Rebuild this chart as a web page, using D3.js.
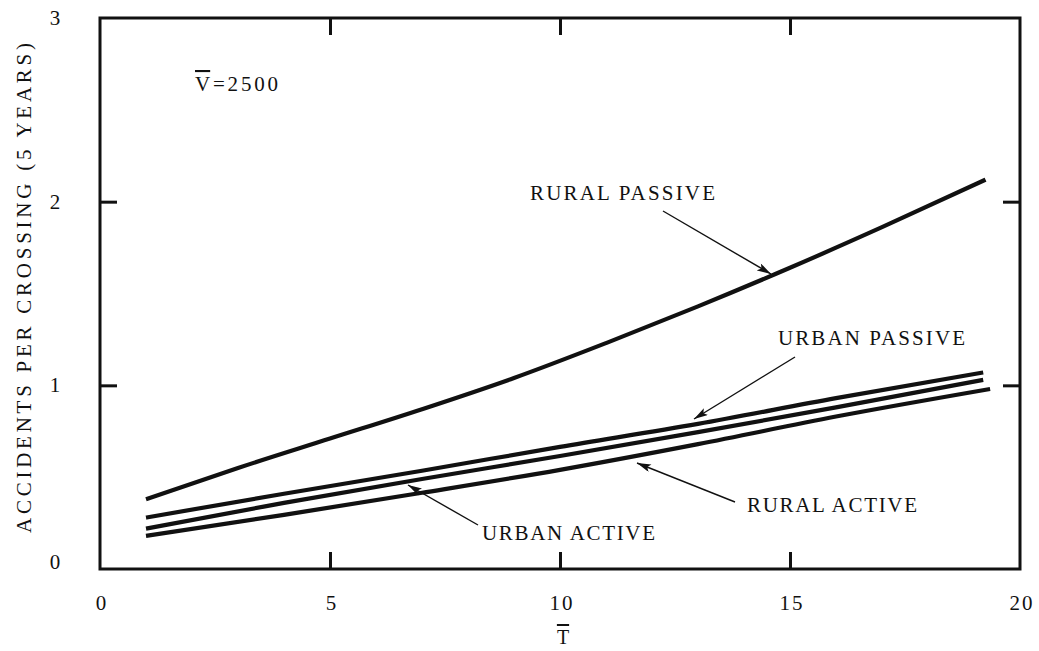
<!DOCTYPE html>
<html>
<head>
<meta charset="utf-8">
<script src="https://cdn.jsdelivr.net/npm/d3@7"></script>
<style>
  html, body { margin: 0; padding: 0; background: #fff; }
  svg text { font-family: "Liberation Serif", "DejaVu Serif", serif; fill: #111; }
</style>
</head>
<body>
<svg id="chart" width="1039" height="651"></svg>
<script>
// ---- data ----
const xTicks = [0, 5, 10, 15, 20];
const yTicks = [0, 1, 2, 3];
const ruralPassiveX = [1, 3, 5, 7, 9, 11, 13, 15, 17, 19.25];
const ruralPassiveY = [0.38, 0.55, 0.71, 0.87, 1.04, 1.23, 1.43, 1.64, 1.861, 2.12];
const urbanPassiveX = [1, 4, 7, 10, 13, 16, 19.2];
const urbanPassiveY = [0.28, 0.41, 0.535, 0.665, 0.79, 0.93, 1.07];
const urbanActiveX = [1, 4, 7, 10, 13, 16, 19.2];
const urbanActiveY = [0.22, 0.36, 0.49, 0.615, 0.745, 0.88, 1.03];
const ruralActiveX = [1, 4, 7, 10, 13, 16, 19.35];
const ruralActiveY = [0.18, 0.295, 0.415, 0.54, 0.68, 0.83, 0.98];
const seriesNames = ["RURAL PASSIVE", "URBAN PASSIVE", "URBAN ACTIVE", "RURAL ACTIVE"];

const svg = d3.select("#chart");
const L = 100, R = 1020, T = 18, B = 569;
const x = d3.scaleLinear().domain([0, 20]).range([L, R]);
const y = d3.scaleLinear().domain([0, 3]).range([B, T]);

// frame
svg.append("rect").attr("x", L).attr("y", T).attr("width", R - L).attr("height", B - T)
  .attr("fill", "none").attr("stroke", "#111").attr("stroke-width", 3);

// axes (ticks inward, labels separately)
const tickLen = 17;
const inner = [5, 10, 15];
const innerY = [1, 2];
const gb = svg.append("g").attr("transform", `translate(0,${B})`)
  .call(d3.axisTop(x).tickValues(inner).tickSize(tickLen).tickFormat(""));
const gt = svg.append("g").attr("transform", `translate(0,${T})`)
  .call(d3.axisBottom(x).tickValues(inner).tickSize(tickLen).tickFormat(""));
const gl = svg.append("g").attr("transform", `translate(${L},0)`)
  .call(d3.axisRight(y).tickValues(innerY).tickSize(tickLen).tickFormat(""));
const gr = svg.append("g").attr("transform", `translate(${R},0)`)
  .call(d3.axisLeft(y).tickValues(innerY).tickSize(tickLen).tickFormat(""));
[gb, gt, gl, gr].forEach(g => {
  g.select(".domain").remove();
  g.selectAll("line").attr("stroke", "#111").attr("stroke-width", 3);
});

// tick labels
svg.append("g").selectAll("text").data(xTicks).join("text")
  .attr("x", d => x(d) + 2).attr("y", 610).attr("text-anchor", "middle")
  .attr("font-size", 21).attr("letter-spacing", 2)
  .text(d => d);
svg.append("g").selectAll("text").data(yTicks).join("text")
  .attr("x", 55).attr("y", d => y(d) + (d === 0 ? 0 : 7)).attr("text-anchor", "middle")
  .attr("font-size", 21)
  .text(d => d);

// axis titles
const xt = svg.append("text").attr("x", 563).attr("y", 644).attr("text-anchor", "middle")
  .attr("font-size", 20);
xt.append("tspan").attr("text-decoration", "overline").text("T");

svg.append("text")
  .attr("transform", "translate(31,288) rotate(-90)")
  .attr("text-anchor", "middle").attr("font-size", 21)
  .attr("textLength", 490).attr("lengthAdjust", "spacing")
  .text("ACCIDENTS PER CROSSING (5 YEARS)");

// V-bar label
const vt = svg.append("text").attr("x", 195).attr("y", 91).attr("font-size", 21)
  .attr("textLength", 83).attr("lengthAdjust", "spacing");
vt.append("tspan").attr("text-decoration", "overline").text("V");
vt.append("tspan").text("=2500");

// curves
const line = d3.line().x(d => x(d[0])).y(d => y(d[1])).curve(d3.curveMonotoneX);
const series = [
  d3.zip(ruralPassiveX, ruralPassiveY),
  d3.zip(urbanPassiveX, urbanPassiveY),
  d3.zip(urbanActiveX, urbanActiveY),
  d3.zip(ruralActiveX, ruralActiveY)
];
svg.append("g").selectAll("path").data(series).join("path")
  .attr("d", line).attr("fill", "none").attr("stroke", "#111")
  .attr("stroke-width", 4.2).attr("stroke-linecap", "butt");

// arrow marker
svg.append("defs").append("marker")
  .attr("id", "ah").attr("viewBox", "0 0 14 8").attr("refX", 14).attr("refY", 4)
  .attr("markerWidth", 15).attr("markerHeight", 8).attr("markerUnits", "userSpaceOnUse")
  .attr("orient", "auto")
  .append("path").attr("d", "M0,0 L14,4 L0,8 L3,4 Z").attr("fill", "#111");

// labels with arrows
const labels = [
  { t: seriesNames[0], tx: 530, ty: 200, w: 185, a: [663, 211, 771, 274] },
  { t: seriesNames[1], tx: 778, ty: 345, w: 187, a: [795, 357, 694, 419] },
  { t: seriesNames[2], tx: 482, ty: 540, w: 173, a: [478, 525, 408, 485] },
  { t: seriesNames[3], tx: 747, ty: 512, w: 170, a: [735, 502, 637, 463] }
];
const lg = svg.append("g");
lg.selectAll("text").data(labels).join("text")
  .attr("x", d => d.tx).attr("y", d => d.ty).attr("font-size", 21)
  .attr("textLength", d => d.w).attr("lengthAdjust", "spacing")
  .text(d => d.t);
lg.selectAll("line").data(labels).join("line")
  .attr("x1", d => d.a[0]).attr("y1", d => d.a[1])
  .attr("x2", d => d.a[2]).attr("y2", d => d.a[3])
  .attr("stroke", "#111").attr("stroke-width", 1.4)
  .attr("marker-end", "url(#ah)");
</script>
</body>
</html>
